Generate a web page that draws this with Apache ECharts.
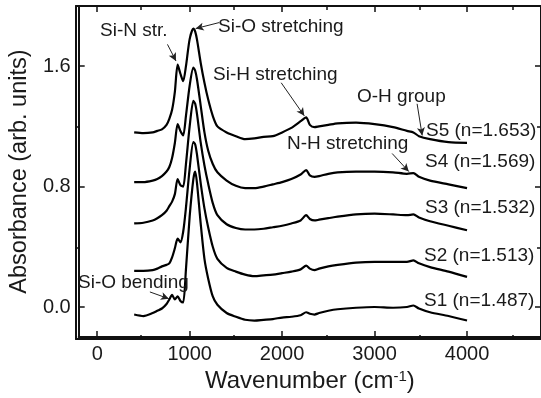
<!DOCTYPE html>
<html>
<head>
<meta charset="utf-8">
<script src="https://cdn.jsdelivr.net/npm/echarts@6/dist/echarts.min.js"></script>
<style>
  html, body { margin: 0; padding: 0; background: #fff; }
  #chart { width: 541px; height: 398px; }
</style>
</head>
<body>
<div id="chart"></div>
<script>
// ---- Data ----
const wavenumber = [400, 500, 600, 650, 700, 750, 780, 810, 840, 870, 900, 930, 960, 1000, 1040, 1060, 1080, 1120, 1160, 1200, 1250, 1300, 1400, 1500, 1600, 1700, 1800, 1900, 2000, 2100, 2200, 2260, 2300, 2350, 2400, 2500, 2600, 2800, 3000, 3200, 3350, 3420, 3480, 3600, 3800, 4000];

const s1 = [-0.05, -0.06, -0.04, -0.025, -0.01, 0.02, 0.05, 0.08, 0.05, 0.07, 0.04, 0.03, 0.25, 0.60, 0.85, 0.90, 0.82, 0.55, 0.32, 0.19, 0.07, 0.015, -0.04, -0.065, -0.085, -0.09, -0.085, -0.08, -0.07, -0.065, -0.055, -0.035, -0.045, -0.05, -0.04, -0.025, -0.015, -0.005, 0.0, -0.005, 0.0, 0.01, -0.01, -0.035, -0.06, -0.09];
const s2 = [0.24, 0.24, 0.245, 0.255, 0.27, 0.28, 0.29, 0.33, 0.39, 0.455, 0.43, 0.50, 0.66, 0.92, 1.095, 1.08, 1.01, 0.82, 0.655, 0.53, 0.40, 0.32, 0.26, 0.235, 0.215, 0.205, 0.21, 0.215, 0.225, 0.235, 0.25, 0.275, 0.255, 0.245, 0.255, 0.27, 0.28, 0.295, 0.30, 0.30, 0.30, 0.31, 0.29, 0.265, 0.235, 0.20];
const s3 = [0.555, 0.56, 0.575, 0.59, 0.61, 0.64, 0.67, 0.70, 0.75, 0.85, 0.81, 0.80, 0.95, 1.20, 1.37, 1.35, 1.28, 1.09, 0.94, 0.82, 0.69, 0.61, 0.55, 0.525, 0.515, 0.515, 0.52, 0.53, 0.54, 0.555, 0.575, 0.61, 0.585, 0.575, 0.58, 0.59, 0.60, 0.615, 0.62, 0.615, 0.61, 0.615, 0.595, 0.57, 0.54, 0.51];
const s4 = [0.83, 0.83, 0.84, 0.85, 0.87, 0.90, 0.93, 0.99, 1.09, 1.215, 1.17, 1.14, 1.27, 1.47, 1.59, 1.57, 1.51, 1.335, 1.16, 1.04, 0.95, 0.895, 0.84, 0.805, 0.79, 0.79, 0.80, 0.815, 0.83, 0.85, 0.88, 0.91, 0.875, 0.865, 0.87, 0.885, 0.895, 0.90, 0.90, 0.895, 0.885, 0.89, 0.865, 0.84, 0.815, 0.79];
const s5 = [1.16, 1.155, 1.16, 1.17, 1.18, 1.21, 1.25, 1.31, 1.43, 1.61, 1.55, 1.50, 1.60, 1.78, 1.85, 1.83, 1.775, 1.62, 1.49, 1.38, 1.27, 1.20, 1.16, 1.135, 1.115, 1.12, 1.13, 1.135, 1.16, 1.19, 1.235, 1.26, 1.21, 1.195, 1.20, 1.21, 1.22, 1.225, 1.215, 1.195, 1.17, 1.16, 1.135, 1.115, 1.095, 1.09];

const seriesNames = ['S1', 'S2', 'S3', 'S4', 'S5'];
const seriesLabels = ['S1 (n=1.487)', 'S2 (n=1.513)', 'S3 (n=1.532)', 'S4 (n=1.569)', 'S5 (n=1.653)'];

const xMajorTicks = [0, 1000, 2000, 3000, 4000];
const xMinorTicks = [500, 1500, 2500, 3500, 4500];
const yMajorTicks = [0.0, 0.8, 1.6];
const yMinorTicks = [0.4, 1.2];

// annotation texts and arrows (arrow ends in data units)
const annotationTexts = ['Si-N str.', 'Si-O stretching', 'Si-H stretching', 'O-H group', 'N-H stretching', 'Si-O bending'];
const arrows = [
  [[760, 1.745], [852, 1.635]],
  [[1320, 1.89], [1065, 1.85]],
  [[1990, 1.49], [2240, 1.27]],
  [[3460, 1.35], [3515, 1.14]],
  [[3190, 1.02], [3370, 0.90]],
  [[570, 0.10], [775, 0.055]]
];

// ---- Layout / style (not data) ----
const FONT = '"Liberation Sans", Arial, Helvetica, sans-serif';
const annotationPos = [[100, 31], [218, 27], [213, 75], [357, 97], [287, 144], [78, 283]];
const labelPos = [[424, 301], [424, 256], [425, 208], [425, 162], [426, 131]];

const allValues = [s1, s2, s3, s4, s5];

const chart = echarts.init(document.getElementById('chart'), null, { renderer: 'canvas' });

const gridRect = { left: 76, top: 6, width: 465, height: 333 };
const X_MIN = -200, X_MAX = 4800, Y_MIN = -0.2, Y_MAX = 2.0;

function xAxisDef(gridIndex, position, ticks, len, withLabels) {
  return {
    type: 'value', gridIndex, position, min: X_MIN, max: X_MAX,
    axisLine: { show: true, onZero: false, lineStyle: { color: '#111', width: 2 } },
    axisTick: { show: true, inside: true, length: len, customValues: ticks, lineStyle: { color: '#111', width: 1.5 } },
    axisLabel: withLabels ? { show: true, customValues: ticks, margin: 7, color: '#1a1a1a', fontSize: 20, fontFamily: FONT, formatter: v => String(v) } : { show: false },
    splitLine: { show: false }
  };
}
function yAxisDef(gridIndex, position, ticks, len, withLabels) {
  return {
    type: 'value', gridIndex, position, min: Y_MIN, max: Y_MAX,
    axisLine: { show: true, onZero: false, lineStyle: { color: '#111', width: 2 } },
    axisTick: { show: true, inside: true, length: len, customValues: ticks, lineStyle: { color: '#111', width: 1.5 } },
    axisLabel: withLabels ? { show: true, customValues: ticks, margin: 8, color: '#1a1a1a', fontSize: 20, fontFamily: FONT, formatter: v => v.toFixed(1) } : { show: false },
    splitLine: { show: false }
  };
}

const xAxes = [
  Object.assign(xAxisDef(0, 'bottom', xMajorTicks, 6, true), {
    name: 'Wavenumber (cm{sup|-1})', nameLocation: 'middle', nameGap: 27,
    nameTextStyle: { color: '#1a1a1a', fontSize: 24, fontFamily: FONT, rich: { sup: { fontSize: 15, fontFamily: FONT, color: '#1a1a1a', verticalAlign: 'top', padding: [0, 0, 8, 0] } } }
  }),
  xAxisDef(0, 'top', xMajorTicks, 6, false),
  xAxisDef(1, 'bottom', xMinorTicks, 4, false),
  xAxisDef(1, 'top', xMinorTicks, 4, false)
];
const yAxes = [
  Object.assign(yAxisDef(0, 'left', yMajorTicks, 6, true), {
    name: 'Absorbance (arb. units)', nameLocation: 'middle', nameGap: 44,
    nameTextStyle: { color: '#1a1a1a', fontSize: 23.5, fontFamily: FONT }
  }),
  yAxisDef(0, 'right', yMajorTicks, 6, false),
  yAxisDef(1, 'left', yMinorTicks, 4, false),
  yAxisDef(1, 'right', yMinorTicks, 4, false)
];

const series = allValues.map((vals, i) => ({
  name: seriesNames[i],
  type: 'line',
  xAxisIndex: 0, yAxisIndex: 0,
  data: wavenumber.map((w, j) => [w, vals[j]]),
  showSymbol: false,
  smooth: 0.25,
  lineStyle: { color: '#000', width: 2.2 },
  silent: true,
  z: 3
}));

series[4].markLine = {
  silent: true,
  symbol: ['none', 'arrow'],
  symbolSize: [6, 8],
  label: { show: false },
  lineStyle: { color: '#222', width: 1, type: 'solid' },
  animation: false,
  data: arrows.map(a => [{ coord: a[0] }, { coord: a[1] }])
};

const graphics = [];
annotationTexts.forEach((t, i) => {
  graphics.push({ type: 'text', x: annotationPos[i][0], y: annotationPos[i][1], z: 10,
    style: { text: t, fill: '#1a1a1a', fontSize: 19, fontFamily: FONT, verticalAlign: 'middle', align: 'left' } });
});
seriesLabels.forEach((t, i) => {
  graphics.push({ type: 'text', x: labelPos[i][0], y: labelPos[i][1], z: 10,
    style: { text: t, fill: '#1a1a1a', fontSize: 19, fontFamily: FONT, verticalAlign: 'middle', align: 'left' } });
});

chart.setOption({
  animation: false,
  backgroundColor: '#fff',
  grid: [Object.assign({}, gridRect), Object.assign({}, gridRect)],
  xAxis: xAxes,
  yAxis: yAxes,
  series: series,
  graphic: graphics
});
</script>
</body>
</html>
